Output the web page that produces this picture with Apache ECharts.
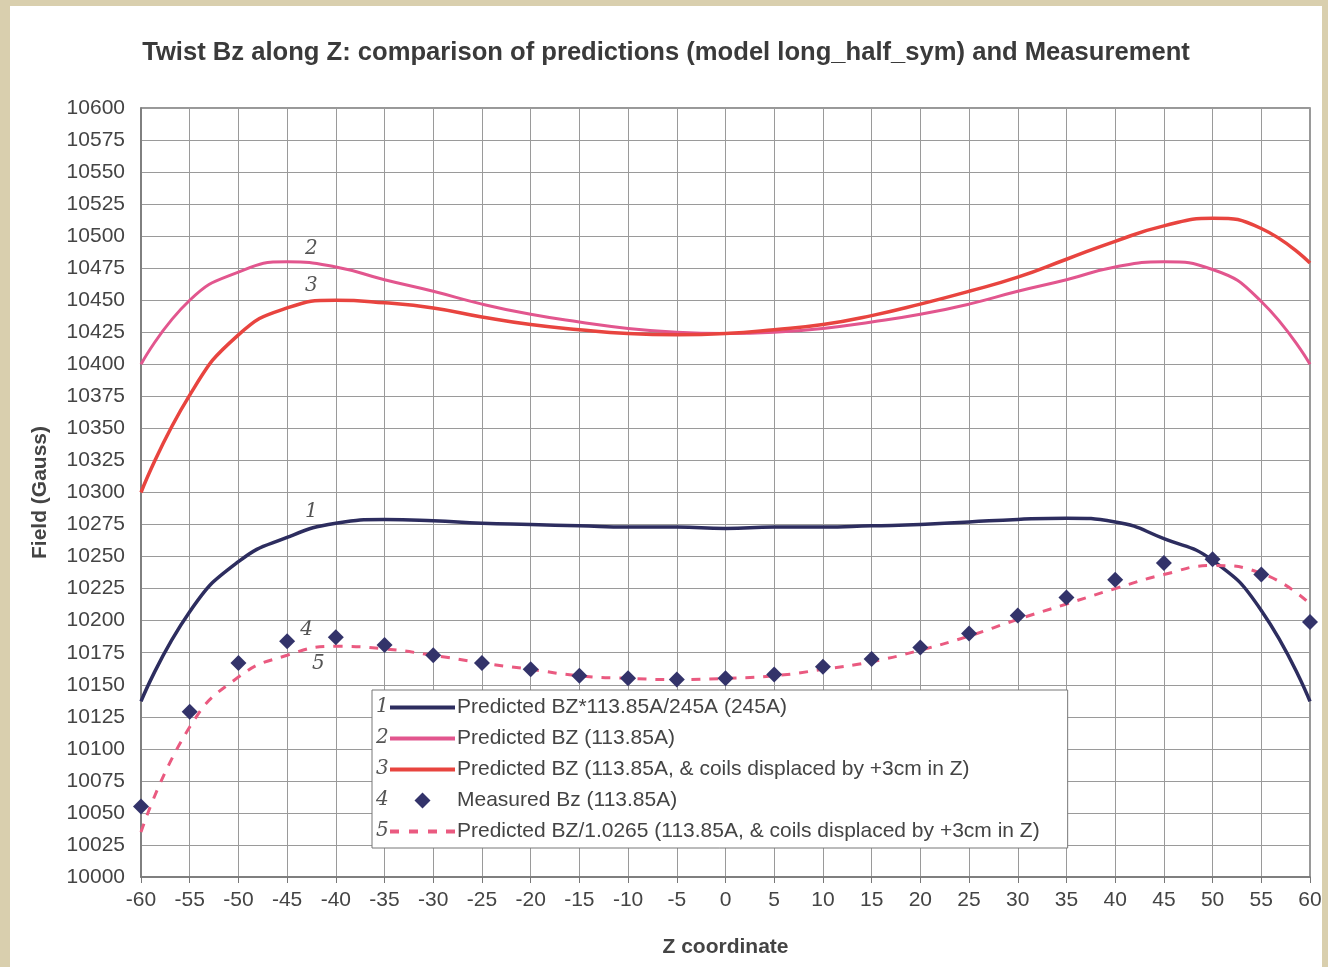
<!DOCTYPE html>
<html>
<head>
<meta charset="utf-8">
<script src="https://cdn.jsdelivr.net/npm/echarts@6/dist/echarts.min.js"></script>
<style>
  html, body { margin: 0; padding: 0; width: 1328px; height: 967px; background: #d9cfae; overflow: hidden; }
  #chart { position: absolute; left: 10px; top: 6px; width: 1312px; height: 961px; background: #ffffff; }
</style>
</head>
<body>
<div id="chart"></div>
<script>
// Z coordinate (cm)
var zVals = [-60, -55, -50, -45, -40, -35, -30, -25, -20, -15, -10, -5, 0, 5, 10, 15, 20, 25, 30, 35, 40, 45, 50, 55, 60];

// 1: Predicted BZ*113.85A/245A (245A)
var predScaled = [10137, 10207, 10246, 10265, 10276, 10279, 10278, 10276, 10275, 10274, 10273, 10273, 10272, 10273, 10273, 10274, 10275, 10277, 10279, 10280, 10277, 10264, 10247, 10208, 10137];
// 2: Predicted BZ (113.85A)
var predBz = [10400, 10450, 10472, 10480, 10476, 10466, 10457, 10447, 10439, 10433, 10428, 10425, 10424, 10425, 10428, 10433, 10439, 10447, 10457, 10466, 10476, 10480, 10474, 10449, 10400];
// 3: Predicted BZ, coils displaced +3cm
var predShift = [10300, 10376, 10423, 10444, 10450, 10448, 10444, 10437, 10431, 10427, 10424, 10423, 10424, 10427, 10431, 10438, 10447, 10457, 10468, 10482, 10496, 10508, 10514, 10506, 10479];
// 4: Measured Bz (113.85A)
var measured = [10055, 10129, 10167, 10184, 10187, 10181, 10173, 10167, 10162, 10157, 10155, 10154, 10155, 10158, 10164, 10170, 10179, 10190, 10204, 10218, 10232, 10245, 10248, 10236, 10199];
// 5: Predicted BZ/1.0265, coils displaced +3cm
var predDiv = [10035, 10117, 10156, 10173, 10180, 10178, 10173, 10167, 10162, 10157, 10155, 10154, 10155, 10157, 10162, 10168, 10177, 10188, 10201, 10213, 10225, 10236, 10243, 10237, 10213];

var seriesNames = [
    'Predicted BZ*113.85A/245A (245A)',
    'Predicted BZ (113.85A)',
    'Predicted BZ (113.85A, & coils displaced by +3cm in Z)',
    'Measured Bz (113.85A)',
    'Predicted BZ/1.0265 (113.85A, & coils displaced by +3cm in Z)'
];

// legend icons: solid bar, dashed bar, diamond
var solidIcon = 'path://M0,0h65v4h-65z';
var dashIcon = 'path://M0,0h9v4h-9z M19,0h9v4h-9z M38,0h9v4h-9z M56,0h9v4h-9z';
var diamondIcon = 'path://M8,0L16,8L8,16L0,8Z';

function pairs(vals) {
    var out = [];
    for (var i = 0; i < zVals.length; i++) {
        out.push([zVals[i], vals[i]]);
    }
    return out;
}

function handNote(txt, x, y) {
    return {
        symbol: 'circle',
        symbolSize: 0,
        data: [{ coord: [x, y], value: txt }],
        label: {
            show: true,
            formatter: txt,
            position: 'inside',
            fontFamily: 'DejaVu Serif',
            fontStyle: 'italic',
            fontSize: 20,
            color: '#555555'
        }
    };
}

var chart = echarts.init(document.getElementById('chart'));

var option = {
    backgroundColor: '#ffffff',
    animation: false,
    title: {
        text: 'Twist Bz along Z: comparison of predictions (model long_half_sym) and Measurement',
        left: 'center',
        top: 29,
        textStyle: {
            fontFamily: 'Liberation Sans',
            fontSize: 25.6,
            fontWeight: 'bold',
            color: '#3a3a3a'
        }
    },
    grid: {
        left: 131,
        right: 12,
        top: 102,
        bottom: 90,
        outerBoundsMode: 'none',
        show: true,
        borderColor: '#777777',
        borderWidth: 1.5
    },
    legend: {
        orient: 'vertical',
        left: 362,
        top: 684,
        padding: [7, 28, 6, 18],
        itemWidth: 65,
        itemHeight: 16,
        itemGap: 10,
        backgroundColor: '#ffffff',
        borderColor: '#777777',
        borderWidth: 1,
        borderRadius: 0,
        textStyle: {
            fontFamily: 'Liberation Sans',
            fontSize: 21,
            lineHeight: 21,
            color: '#444444',
            padding: [0, 0, 0, -3]
        },
        data: [
            { name: seriesNames[0], icon: solidIcon },
            { name: seriesNames[1], icon: solidIcon },
            { name: seriesNames[2], icon: solidIcon },
            { name: seriesNames[3], icon: diamondIcon },
            { name: seriesNames[4], icon: dashIcon }
        ]
    },
    xAxis: {
        type: 'value',
        min: -60,
        max: 60,
        interval: 5,
        name: 'Z coordinate',
        nameLocation: 'middle',
        nameGap: 60,
        nameTextStyle: {
            fontFamily: 'Liberation Sans',
            fontSize: 21,
            fontWeight: 'bold',
            color: '#444444'
        },
        axisLine: { onZero: false, lineStyle: { color: '#777777', width: 1.5 } },
        axisTick: { show: true, length: 6, lineStyle: { color: '#777777' } },
        axisLabel: {
            margin: 13,
            fontFamily: 'Liberation Sans',
            fontSize: 21,
            color: '#444444'
        },
        splitLine: { show: true, lineStyle: { color: '#9a9a9a', width: 1 } }
    },
    yAxis: {
        type: 'value',
        min: 10000,
        max: 10600,
        interval: 25,
        name: 'Field (Gauss)',
        nameLocation: 'middle',
        nameGap: 90,
        nameTextStyle: {
            fontFamily: 'Liberation Sans',
            fontSize: 21,
            fontWeight: 'bold',
            color: '#444444'
        },
        axisLine: { show: true, onZero: false, lineStyle: { color: '#777777', width: 1.5 } },
        axisTick: { show: false },
        axisLabel: {
            margin: 16,
            fontFamily: 'Liberation Sans',
            fontSize: 21,
            color: '#444444',
            formatter: function (v) { return String(v); }
        },
        splitLine: { show: true, lineStyle: { color: '#9a9a9a', width: 1 } }
    },
    series: [
        {
            name: seriesNames[0],
            type: 'line',
            data: pairs(predScaled),
            smooth: true,
            symbol: 'none',
            itemStyle: { color: '#2d2d5f' },
            lineStyle: { color: '#2d2d5f', width: 3.5 },
            markPoint: handNote('1', -42.5, 10285),
            z: 3
        },
        {
            name: seriesNames[1],
            type: 'line',
            data: pairs(predBz),
            smooth: true,
            symbol: 'none',
            itemStyle: { color: '#e2568e' },
            lineStyle: { color: '#e2568e', width: 3 },
            markPoint: handNote('2', -42.5, 10490),
            z: 3
        },
        {
            name: seriesNames[2],
            type: 'line',
            data: pairs(predShift),
            smooth: true,
            symbol: 'none',
            itemStyle: { color: '#e8443f' },
            lineStyle: { color: '#e8443f', width: 3.5 },
            markPoint: handNote('3', -42.5, 10461),
            z: 3
        },
        {
            name: seriesNames[3],
            type: 'scatter',
            data: pairs(measured),
            symbol: 'diamond',
            symbolSize: 16,
            itemStyle: { color: '#33336a', opacity: 1 },
            markPoint: handNote('4', -43, 10193),
            z: 5
        },
        {
            name: seriesNames[4],
            type: 'line',
            data: pairs(predDiv),
            smooth: true,
            symbol: 'none',
            itemStyle: { color: '#ea5a80' },
            lineStyle: { color: '#ea5a80', width: 3, type: [9, 9] },
            markPoint: handNote('5', -41.8, 10166),
            z: 4
        }
    ],
    // handwritten numbers beside the legend entries
    graphic: ['1', '2', '3', '4', '5'].map(function (t, i) {
        return {
            type: 'text',
            left: 366,
            top: 691 + i * 31,
            z: 100,
            style: {
                text: t,
                font: 'italic 20px "DejaVu Serif"',
                fill: '#555555'
            }
        };
    })
};

chart.setOption(option);
</script>
</body>
</html>
